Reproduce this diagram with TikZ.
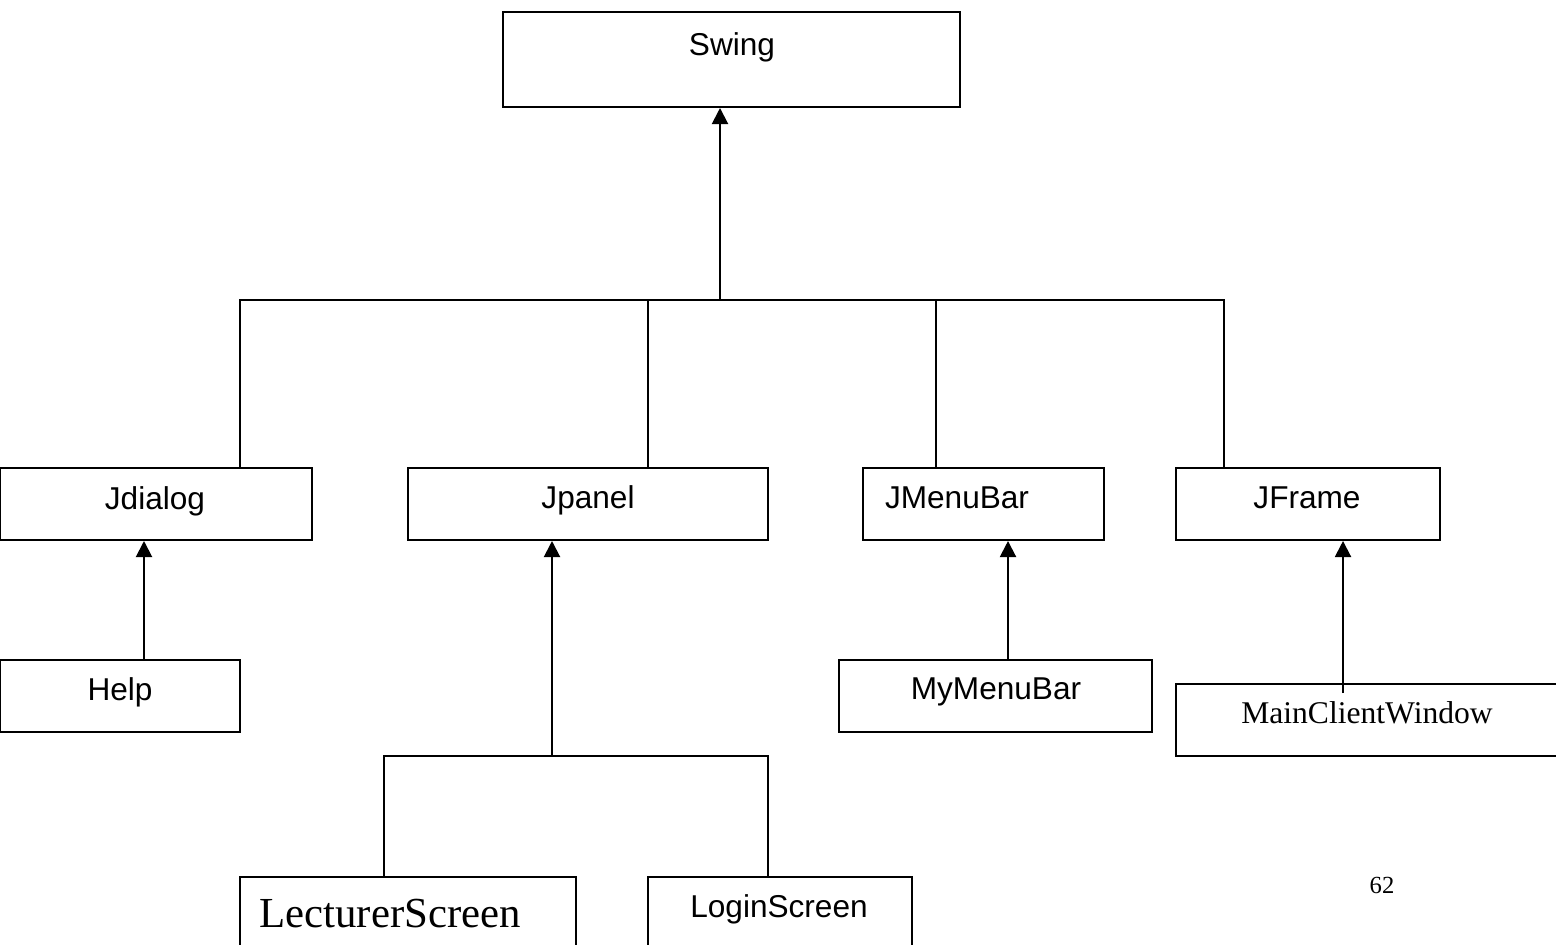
\documentclass[tikz,border=0pt]{standalone}
\usepackage{fontspec}
\setmainfont{Liberation Serif}
\newfontfamily\arialfont{Liberation Sans}
\usetikzlibrary{arrows.meta,fit}

\begin{document}
\begin{tikzpicture}[x=0.5pt,y=-0.5pt,
  line width=1pt,
  box/.style={draw=black,line width=1pt,inner sep=0pt,fill=none},
  sanslbl/.style={anchor=base,inner sep=0pt,font=\arialfont\fontsize{15.8pt}{18pt}\selectfont},
  seriflbl/.style={anchor=base,inner sep=0pt,font=\fontsize{15.8pt}{18pt}\selectfont},
  arr/.style={-{Triangle[width=8pt,length=8pt]},line width=1pt}]

  \useasboundingbox (0,0) rectangle (1556,944);

  % class boxes
  \node[box,fit={(503,12) (960,107)}]   (swing) {};
  \node[box,fit={(0,468) (312,540)}]    (jdialog) {};
  \node[box,fit={(408,468) (768,540)}]  (jpanel) {};
  \node[box,fit={(863,468) (1104,540)}] (jmenubar) {};
  \node[box,fit={(1176,468) (1440,540)}] (jframe) {};
  \node[box,fit={(0,660) (240,732)}]    (help) {};
  \node[box,fit={(839,660) (1152,732)}] (mymenubar) {};
  \node[box,fit={(1176,684) (1580,756)}] (mainclient) {};
  \node[box,fit={(240,877) (576,970)}]  (lecturer) {};
  \node[box,fit={(648,877) (912,970)}]  (login) {};

  % class names
  \node[sanslbl] (t-swing)    at (732,55)  {Swing};
  \node[sanslbl] (t-jdialog)  at (155,509) {Jdialog};
  \node[sanslbl] (t-jpanel)   at (588,508) {Jpanel};
  \node[sanslbl] (t-jmenubar) at (957,508) {JMenuBar};
  \node[sanslbl] (t-jframe)   at (1307,508) {JFrame};
  \node[sanslbl] (t-help)     at (120,700) {Help};
  \node[sanslbl] (t-mymenu)   at (996,699) {MyMenuBar};
  \node[seriflbl] (t-main)    at (1367,723) {MainClientWindow};
  \node[anchor=base,inner sep=0pt,font=\fontsize{21.4pt}{24pt}\selectfont]
       (t-lect) at (390,927) {LecturerScreen};
  \node[sanslbl] (t-login)    at (779,917) {LoginScreen};
  \node[anchor=base,inner sep=0pt,font=\fontsize{12.3pt}{14pt}\selectfont]
       (pagenum) at (1382,893) {62};

  % junction points of the connectors
  \coordinate (hub) at (720,300);
  \coordinate (d1) at (240,300);
  \coordinate (d2) at (648,300);
  \coordinate (d3) at (936,300);
  \coordinate (d4) at (1224,300);
  \coordinate (a-help) at (144,0);
  \coordinate (a-panel) at (552,756);
  \coordinate (a-menu) at (1008,0);
  \coordinate (a-main) at (1343,693);
  \coordinate (e1) at (384,756);
  \coordinate (e2) at (768,756);

  % Swing and its direct subclasses
  \draw[arr] (hub) -- (hub |- swing.south);
  \draw (d1 |- jdialog.north) -- (d1) -- (d4) -- (d4 |- jframe.north);
  \draw (d2) -- (d2 |- jpanel.north);
  \draw (d3) -- (d3 |- jmenubar.north);

  % second-level subclasses
  \draw[arr] (a-help |- help.north) -- (a-help |- jdialog.south);
  \draw[arr] (a-menu |- mymenubar.north) -- (a-menu |- jmenubar.south);
  \draw[arr] (a-main) -- (a-main |- jframe.south);
  \draw[arr] (a-panel) -- (a-panel |- jpanel.south);
  \draw (e1 |- lecturer.north) -- (e1) -- (e2) -- (e2 |- login.north);
\end{tikzpicture}
\end{document}
